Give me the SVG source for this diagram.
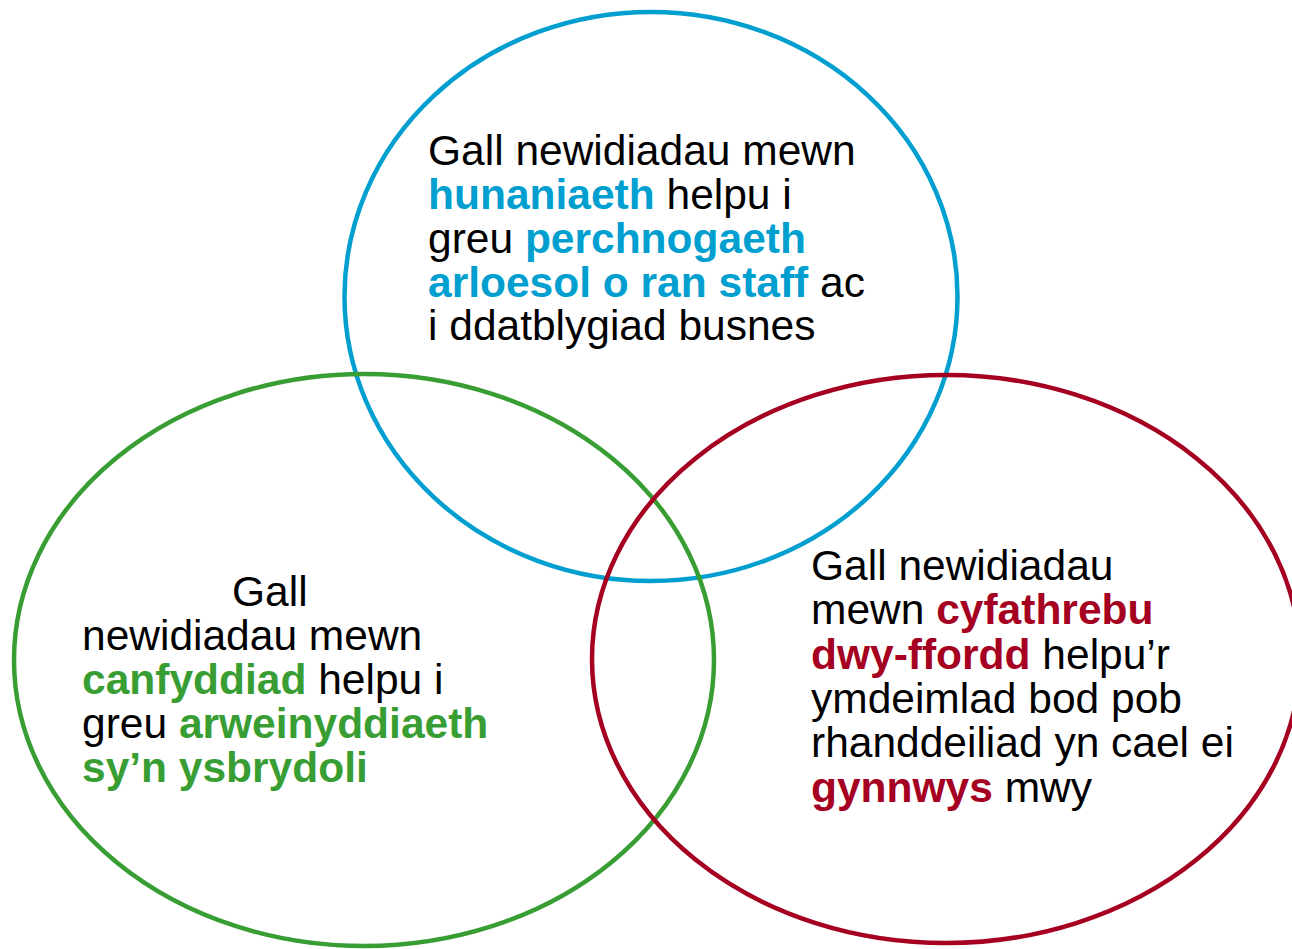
<svg xmlns="http://www.w3.org/2000/svg" width="1292" height="949" viewBox="0 0 1292 949">
<style>
.c{fill:none;stroke-width:4.5}
.t{font-family:"Liberation Sans",Arial,sans-serif;font-size:42.5px;fill:#000}
.b{font-weight:bold}
.bl{fill:#009FCF}
.gr{fill:#389E34}
.rd{fill:#A50021}
</style>
<rect width="1292" height="949" fill="#fff"/>
<g id="blue">
<ellipse class="c" cx="651" cy="296.5" rx="306.5" ry="284.5" stroke="#009FCF"/>
<text class="t" x="428" y="165">Gall newidiadau mewn</text>
<text class="t" x="428" y="209"><tspan class="b bl">hunaniaeth</tspan> helpu i</text>
<text class="t" x="428" y="253">greu <tspan class="b bl">perchnogaeth</tspan></text>
<text class="t" x="428" y="297"><tspan class="b bl">arloesol o ran staff</tspan> ac</text>
<text class="t" x="428" y="340">i ddatblygiad busnes</text>
</g>
<g id="green">
<ellipse class="c" cx="364" cy="660" rx="350" ry="286" stroke="#389E34"/>
<text class="t" x="232" y="606">Gall</text>
<text class="t" x="82" y="650">newidiadau mewn</text>
<text class="t" x="82" y="694"><tspan class="b gr">canfyddiad</tspan> helpu i</text>
<text class="t" x="82" y="738">greu <tspan class="b gr">arweinyddiaeth</tspan></text>
<text class="t" x="82" y="782"><tspan class="b gr">sy’n ysbrydoli</tspan></text>
</g>
<g id="red">
<ellipse class="c" cx="946" cy="659" rx="354" ry="284" stroke="#A50021"/>
<text class="t" x="811" y="580">Gall newidiadau</text>
<text class="t" x="811" y="624">mewn <tspan class="b rd">cyfathrebu</tspan></text>
<text class="t" x="811" y="669"><tspan class="b rd">dwy-ffordd</tspan> helpu’r</text>
<text class="t" x="811" y="713">ymdeimlad bod pob</text>
<text class="t" x="811" y="757">rhanddeiliad yn cael ei</text>
<text class="t" x="811" y="802"><tspan class="b rd">gynnwys</tspan> mwy</text>
</g>
<g id="connectors"/>
</svg>
